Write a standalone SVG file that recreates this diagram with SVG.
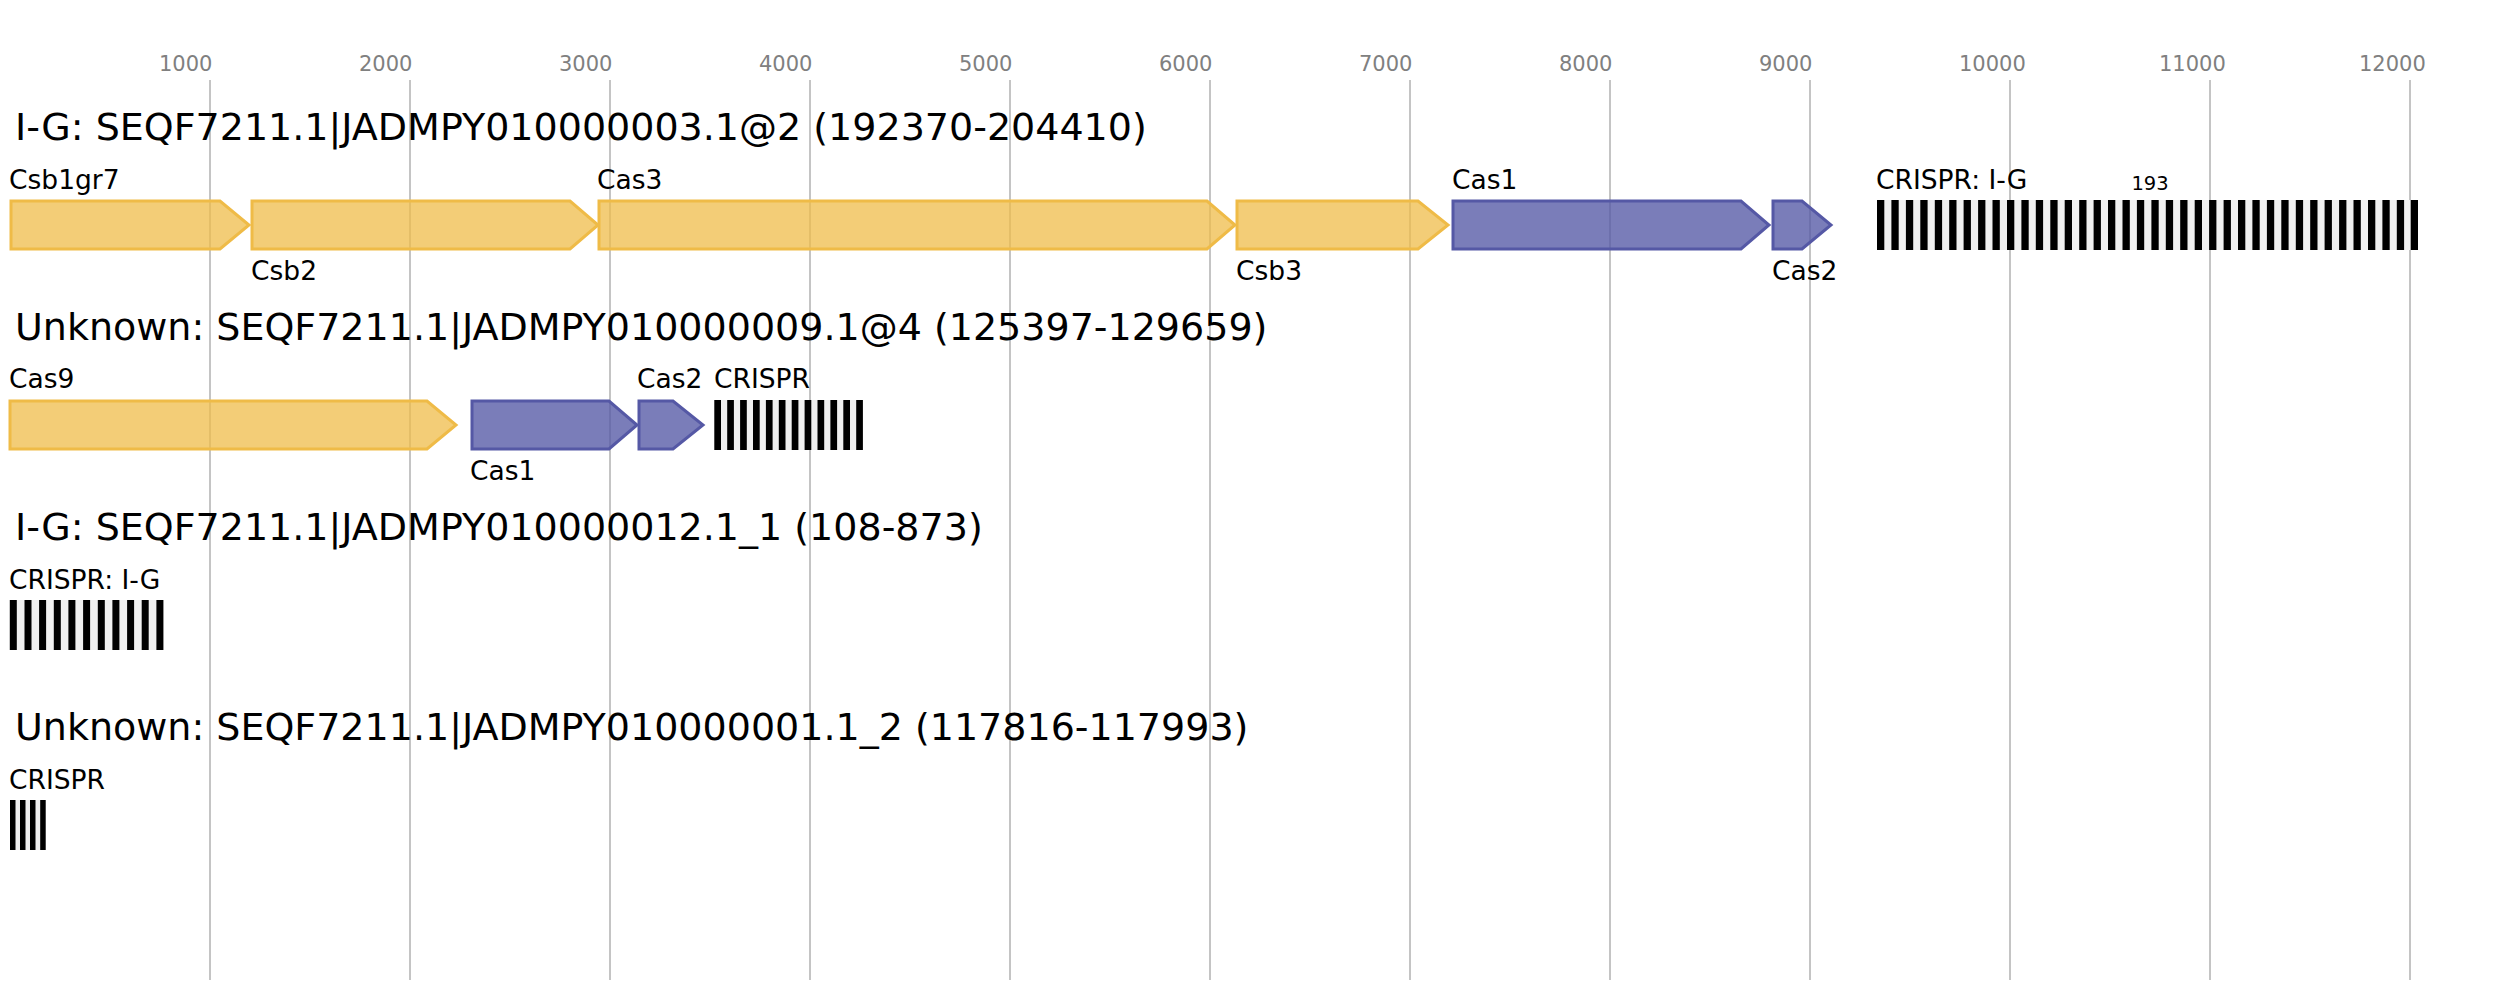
<svg xmlns="http://www.w3.org/2000/svg" width="2508" height="1000" viewBox="0 0 2508 1000">
<style>
.grid{stroke:#c4c4c4;stroke-width:2}
.tick{font-family:"DejaVu Sans",sans-serif;font-size:21px;fill:#808080}
.title{font-family:"DejaVu Sans",sans-serif;font-size:38px;fill:#000}
.lbl{font-family:"DejaVu Sans",sans-serif;font-size:26.5px;fill:#000}
.small{font-family:"DejaVu Sans",sans-serif;font-size:19.5px;fill:#000}
.yel{fill:#efbb47;fill-opacity:0.74;stroke:#efbb47;stroke-width:3}
.blu{fill:#5558a5;fill-opacity:0.78;stroke:#5558a5;stroke-width:3}
.bg{fill:#f0f0f0}
.rep{fill:#000}
</style>
<rect width="2508" height="1000" fill="#fff"/>
<g id="axis">
<line class="grid" x1="210" y1="80" x2="210" y2="980"/>
<line class="grid" x1="410" y1="80" x2="410" y2="980"/>
<line class="grid" x1="610" y1="80" x2="610" y2="980"/>
<line class="grid" x1="810" y1="80" x2="810" y2="980"/>
<line class="grid" x1="1010" y1="80" x2="1010" y2="980"/>
<line class="grid" x1="1210" y1="80" x2="1210" y2="980"/>
<line class="grid" x1="1410" y1="80" x2="1410" y2="980"/>
<line class="grid" x1="1610" y1="80" x2="1610" y2="980"/>
<line class="grid" x1="1810" y1="80" x2="1810" y2="980"/>
<line class="grid" x1="2010" y1="80" x2="2010" y2="980"/>
<line class="grid" x1="2210" y1="80" x2="2210" y2="980"/>
<line class="grid" x1="2410" y1="80" x2="2410" y2="980"/>
<text class="tick" x="159" y="70.5">1000</text>
<text class="tick" x="359" y="70.5">2000</text>
<text class="tick" x="559" y="70.5">3000</text>
<text class="tick" x="759" y="70.5">4000</text>
<text class="tick" x="959" y="70.5">5000</text>
<text class="tick" x="1159" y="70.5">6000</text>
<text class="tick" x="1359" y="70.5">7000</text>
<text class="tick" x="1559" y="70.5">8000</text>
<text class="tick" x="1759" y="70.5">9000</text>
<text class="tick" x="1959" y="70.5">10000</text>
<text class="tick" x="2159" y="70.5">11000</text>
<text class="tick" x="2359" y="70.5">12000</text>
</g>
<g id="titles">
<text class="title" x="15" y="140">I-G: SEQF7211.1|JADMPY010000003.1@2 (192370-204410)</text>
<text class="title" x="15" y="340">Unknown: SEQF7211.1|JADMPY010000009.1@4 (125397-129659)</text>
<text class="title" x="15" y="540">I-G: SEQF7211.1|JADMPY010000012.1_1 (108-873)</text>
<text class="title" x="15" y="740">Unknown: SEQF7211.1|JADMPY010000001.1_2 (117816-117993)</text>
</g>
<g id="connectors"></g>
<g id="row1">
<g id="r1-csb1gr7"><polygon class="yel" points="11,201 220,201 249,225 220,249 11,249"/><text class="lbl" x="9" y="189">Csb1gr7</text></g>
<g id="r1-csb2"><polygon class="yel" points="252,201 570,201 598,225 570,249 252,249"/><text class="lbl" x="251" y="280">Csb2</text></g>
<g id="r1-cas3"><polygon class="yel" points="599,201 1207,201 1235,225 1207,249 599,249"/><text class="lbl" x="597" y="189">Cas3</text></g>
<g id="r1-csb3"><polygon class="yel" points="1237,201 1418,201 1448,225 1418,249 1237,249"/><text class="lbl" x="1236" y="280">Csb3</text></g>
<g id="r1-cas1"><polygon class="blu" points="1453,201 1741,201 1769,225 1741,249 1453,249"/><text class="lbl" x="1452" y="189">Cas1</text></g>
<g id="r1-cas2"><polygon class="blu" points="1773,201 1802,201 1831,225 1802,249 1773,249"/><text class="lbl" x="1772" y="280">Cas2</text></g>
<g id="r1-crispr">
<rect class="bg" x="1877" y="200" width="541" height="50"/>
<g class="rep">
<rect x="1877.0" y="200" width="7.3" height="50"/><rect x="1891.4" y="200" width="7.3" height="50"/><rect x="1905.9" y="200" width="7.3" height="50"/><rect x="1920.3" y="200" width="7.3" height="50"/><rect x="1934.8" y="200" width="7.3" height="50"/><rect x="1949.2" y="200" width="7.3" height="50"/><rect x="1963.6" y="200" width="7.3" height="50"/><rect x="1978.1" y="200" width="7.3" height="50"/><rect x="1992.5" y="200" width="7.3" height="50"/><rect x="2007.0" y="200" width="7.3" height="50"/><rect x="2021.4" y="200" width="7.3" height="50"/><rect x="2035.8" y="200" width="7.3" height="50"/><rect x="2050.3" y="200" width="7.3" height="50"/><rect x="2064.7" y="200" width="7.3" height="50"/><rect x="2079.2" y="200" width="7.3" height="50"/><rect x="2093.6" y="200" width="7.3" height="50"/><rect x="2108.0" y="200" width="7.3" height="50"/><rect x="2122.5" y="200" width="7.3" height="50"/><rect x="2136.9" y="200" width="7.3" height="50"/><rect x="2151.4" y="200" width="7.3" height="50"/><rect x="2165.8" y="200" width="7.3" height="50"/><rect x="2180.2" y="200" width="7.3" height="50"/><rect x="2194.7" y="200" width="7.3" height="50"/><rect x="2209.1" y="200" width="7.3" height="50"/><rect x="2223.6" y="200" width="7.3" height="50"/><rect x="2238.0" y="200" width="7.3" height="50"/><rect x="2252.4" y="200" width="7.3" height="50"/><rect x="2266.9" y="200" width="7.3" height="50"/><rect x="2281.3" y="200" width="7.3" height="50"/><rect x="2295.8" y="200" width="7.3" height="50"/><rect x="2310.2" y="200" width="7.3" height="50"/><rect x="2324.6" y="200" width="7.3" height="50"/><rect x="2339.1" y="200" width="7.3" height="50"/><rect x="2353.5" y="200" width="7.3" height="50"/><rect x="2368.0" y="200" width="7.3" height="50"/><rect x="2382.4" y="200" width="7.3" height="50"/><rect x="2396.8" y="200" width="7.3" height="50"/><rect x="2410.7" y="200" width="7.3" height="50"/>
</g>
<text class="lbl" x="1876" y="189">CRISPR: I-G</text>
<text class="small" x="2150" y="190" text-anchor="middle">193</text>
</g>
</g>
<g id="row2">
<g id="r2-cas9"><polygon class="yel" points="10,401 427,401 456,425 427,449 10,449"/><text class="lbl" x="9" y="388">Cas9</text></g>
<g id="r2-cas1"><polygon class="blu" points="472,401 609,401 637,425 609,449 472,449"/><text class="lbl" x="470" y="480">Cas1</text></g>
<g id="r2-cas2"><polygon class="blu" points="639,401 673,401 703,425 673,449 639,449"/><text class="lbl" x="637" y="388">Cas2</text></g>
<g id="r2-crispr">
<rect class="bg" x="714.3" y="400" width="148.5" height="50"/>
<g class="rep">
<rect x="714.3" y="400" width="6.7" height="50"/><rect x="727.2" y="400" width="6.7" height="50"/><rect x="740.1" y="400" width="6.7" height="50"/><rect x="753.0" y="400" width="6.7" height="50"/><rect x="765.9" y="400" width="6.7" height="50"/><rect x="778.8" y="400" width="6.7" height="50"/><rect x="791.7" y="400" width="6.7" height="50"/><rect x="804.6" y="400" width="6.7" height="50"/><rect x="817.5" y="400" width="6.7" height="50"/><rect x="830.4" y="400" width="6.7" height="50"/><rect x="843.3" y="400" width="6.7" height="50"/><rect x="856.2" y="400" width="6.7" height="50"/>
</g>
<text class="lbl" x="714" y="388">CRISPR</text>
</g>
</g>
<g id="row3">
<g id="r3-crispr">
<rect class="bg" x="9.8" y="600" width="153.6" height="50"/>
<g class="rep">
<rect x="9.8" y="600" width="7" height="50"/><rect x="24.5" y="600" width="7" height="50"/><rect x="39.1" y="600" width="7" height="50"/><rect x="53.8" y="600" width="7" height="50"/><rect x="68.4" y="600" width="7" height="50"/><rect x="83.1" y="600" width="7" height="50"/><rect x="97.8" y="600" width="7" height="50"/><rect x="112.4" y="600" width="7" height="50"/><rect x="127.1" y="600" width="7" height="50"/><rect x="141.7" y="600" width="7" height="50"/><rect x="156.4" y="600" width="7" height="50"/>
</g>
<text class="lbl" x="9" y="589">CRISPR: I-G</text>
</g>
</g>
<g id="row4">
<g id="r4-crispr">
<rect class="bg" x="10" y="800" width="35.7" height="50"/>
<g class="rep">
<rect x="10" y="800" width="5.5" height="50"/><rect x="20" y="800" width="5.5" height="50"/><rect x="30" y="800" width="5.5" height="50"/><rect x="40.2" y="800" width="5.5" height="50"/>
</g>
<text class="lbl" x="9" y="789">CRISPR</text>
</g>
</g>
</svg>
